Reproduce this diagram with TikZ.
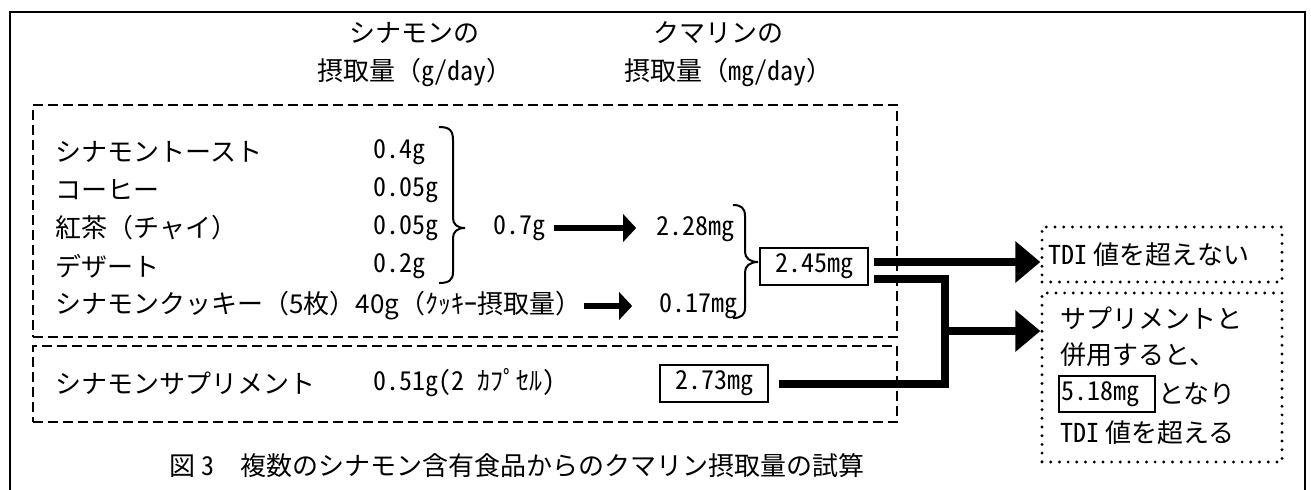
\documentclass[tikz,border=0pt]{standalone}
\usepackage{fontspec}
\setmainfont{Noto Sans CJK JP}
\newfontfamily\hw{Noto Sans CJK JP}[RawFeature=+hwid]
\usetikzlibrary{arrows.meta,fit,calc}
\begin{document}
\begin{tikzpicture}[x=0.5pt,y=-0.5pt,
  every node/.style={inner sep=0pt, font=\fontsize{13pt}{15pt}\selectfont},
  lbl/.style={anchor=west},
  num/.style={anchor=west, font=\fontsize{13pt}{15pt}\hw},
  valbox/.style={draw, line width=1pt, minimum width=54pt, minimum height=18.5pt},
  dashbox/.style={draw, line width=0.9pt, dash pattern=on 5pt off 2.5pt},
  dotbox/.style={draw, line width=1.6pt, line cap=round, dash pattern=on 0pt off 4.35pt},
  brace/.style={line width=1pt},
  midarrow/.style={line width=3pt, -{Triangle[length=6.5pt,width=13.5pt]}},
  bigline/.style={line width=4pt, line join=miter},
  bigarrow/.style={line width=4pt, -{Triangle[length=12.5pt,width=20pt]}},
]
\useasboundingbox (0,0) rectangle (1311,489);
\fill[white] (0,0) rectangle (1311,489);
\draw[line width=1pt] (10,500) -- (10,12) -- (1305,12) -- (1305,500);

% headers
\node (h1a) at (414,33) {シナモンの};
\node (h1b) at (415,73) {摂取量（{\hw g/day}）};
\node (h2a) at (718,33) {クマリンの};
\node (h2b) at (728,73) {摂取量（㎎{\hw /day}）};

% group boxes
\node[dashbox, fit={(33,105) (897,337)}] (g1) {};
\node[dashbox, fit={(33,346) (897,422)}] (g2) {};

% foods
\node[lbl] (f1) at (55,152) {シナモントースト};
\node[lbl] (f2) at (55,190) {コーヒー};
\node[lbl] (f3) at (55,228) {紅茶（チャイ）};
\node[lbl] (f4) at (55,266) {デザート};
\node[lbl] (f5) at (55,306) {シナモンクッキー（5枚）40g（ｸｯｷｰ摂取量）};

\node[num] (v1) at (373,152) {0.4g};
\node[num] (v2) at (373,190) {0.05g};
\node[num] (v3) at (373,228) {0.05g};
\node[num] (v4) at (373,266) {0.2g};

% brace 1
\draw[brace] (439,127) .. controls (449,127) and (453,130) .. (453,140) -- (453,218)
  .. controls (453,224) and (457,228) .. (465,228)
  .. controls (457,228) and (453,232) .. (453,238) -- (453,272)
  .. controls (453,280) and (449,283) .. (439,283);

\node[num] (v07) at (493,228) {0.7g};
\node[anchor=east] (m228) at (735,229) {{\hw 2.28}㎎};
\node[anchor=east] (m017) at (738,306) {{\hw 0.17}㎎};

\draw[midarrow, shorten <=4pt, shorten >=10pt] (v07.east) -- (v07.east -| m228.west);
\draw[midarrow, shorten <=1pt, shorten >=13.5pt] (f5.east) -- (f5.east -| m017.west);

% brace 2
\draw[brace] (733,205) .. controls (741,205) and (745,208) .. (745,216) -- (745,252)
  .. controls (745,258) and (750,262) .. (758,262)
  .. controls (750,262) and (745,266) .. (745,272) -- (745,308)
  .. controls (745,315) and (741,318) .. (733,318);

\node[valbox] (b245) at (814,266.5) {{\hw 2.45}㎎};

% supplement
\node[lbl] (s1) at (55,383) {シナモンサプリメント};
\node[lbl] (s1v) at (373,383) {{\hw 0.51g(2 }ｶﾌﾟｾﾙ{\hw )}};
\node[valbox] (b273) at (714,383.5) {{\hw 2.73}㎎};

% caption
\node (cap) at (517,466) {図 {\hw 3}　複数のシナモン含有食品からのクマリン摂取量の試算};

% result boxes
\node[dotbox, fit={(1042,227) (1282,282)}] (ra) {};
\node[dotbox, fit={(1042,293) (1282,462)}] (rb) {};
\node[lbl] (ta) at (1048,255) {{\hw TDI} 値を超えない};
\node[lbl] (tb1) at (1060,318) {サプリメントと};
\node[lbl] (tb2) at (1060,355) {併用すると、};
\node[draw, line width=1pt, minimum width=48pt, minimum height=18pt] (b518) at (1107,394) {};
\node[lbl] (tb3n) at (1061,394) {{\hw 5.18}㎎};
\node[lbl] (tb3) at (1158,394) {となり};
\node[lbl] (tb4) at (1060,433) {{\hw TDI} 値を超える};

% connectors
\coordinate (o1) at ([xshift=2.5pt,yshift=2.25pt]b245.east);
\coordinate (o2) at ([xshift=2.5pt,yshift=-6.25pt]b245.east);
\coordinate (j) at (945,331);
\coordinate (o3) at ([xshift=5pt]b273.east);
\draw[bigarrow] (o1) -- (o1 -| ra.west);
\draw[bigline] (o2) -| (j) |- (o3);
\draw[bigarrow] (j) -- (j -| rb.west);
\end{tikzpicture}
\end{document}
